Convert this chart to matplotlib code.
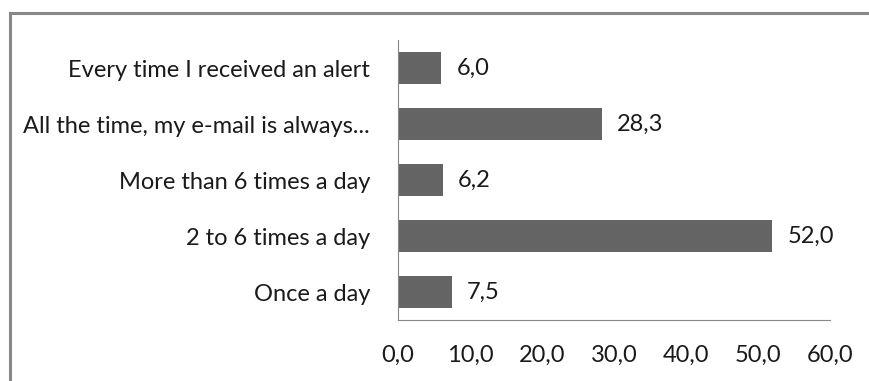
import matplotlib.pyplot as plt
from matplotlib.lines import Line2D

# Datos
categorias = ['Once a day', '2 to 6 times a day', 'More than 6 times a day',
              'All the time, my e-mail is always...', 'Every time I received an alert']
valores = [7.5, 52.0, 6.2, 28.3, 6.0]
ticks_x = [0, 10, 20, 30, 40, 50, 60]

plt.rcParams['font.family'] = ['Lato', 'DejaVu Sans']

fig = plt.figure(figsize=(8.69, 3.81), dpi=100)
ax = fig.add_axes([0.458, 0.160, 0.497, 0.735])

y = range(len(categorias))
ax.barh(y, valores, height=0.57, color='#646464')

for yi, v in zip(y, valores):
    ax.text(v + 2.1, yi, f'{v:.1f}'.replace('.', ','), va='center', ha='left',
            fontsize=17, color='#1a1a1a')

ax.set_xlim(0, 60)
ax.set_ylim(-0.5, len(categorias) - 0.5)
ax.set_yticks(list(y))
ax.set_yticklabels(categorias)
ax.set_xticks(ticks_x)
ax.set_xticklabels([f'{t:.1f}'.replace('.', ',') for t in ticks_x])
ax.tick_params(axis='x', length=0, pad=18, labelsize=17, colors='#1a1a1a')
ax.tick_params(axis='y', length=0, pad=20, labelsize=17, colors='#1a1a1a')

for s in ['top', 'right']:
    ax.spines[s].set_visible(False)
ax.spines['left'].set_color('#888888')
ax.spines['bottom'].set_color('#888888')

# Marco exterior (solo arriba e izquierda visibles)
fig.add_artist(Line2D([9.5 / 869, 1.0], [1 - 12.5 / 381, 1 - 12.5 / 381],
                      transform=fig.transFigure, color='#888888', lw=2.2))
fig.add_artist(Line2D([9.5 / 869, 9.5 / 869], [0.0, 1 - 12.5 / 381],
                      transform=fig.transFigure, color='#888888', lw=2.2))

fig.savefig('out.png', dpi=100)
